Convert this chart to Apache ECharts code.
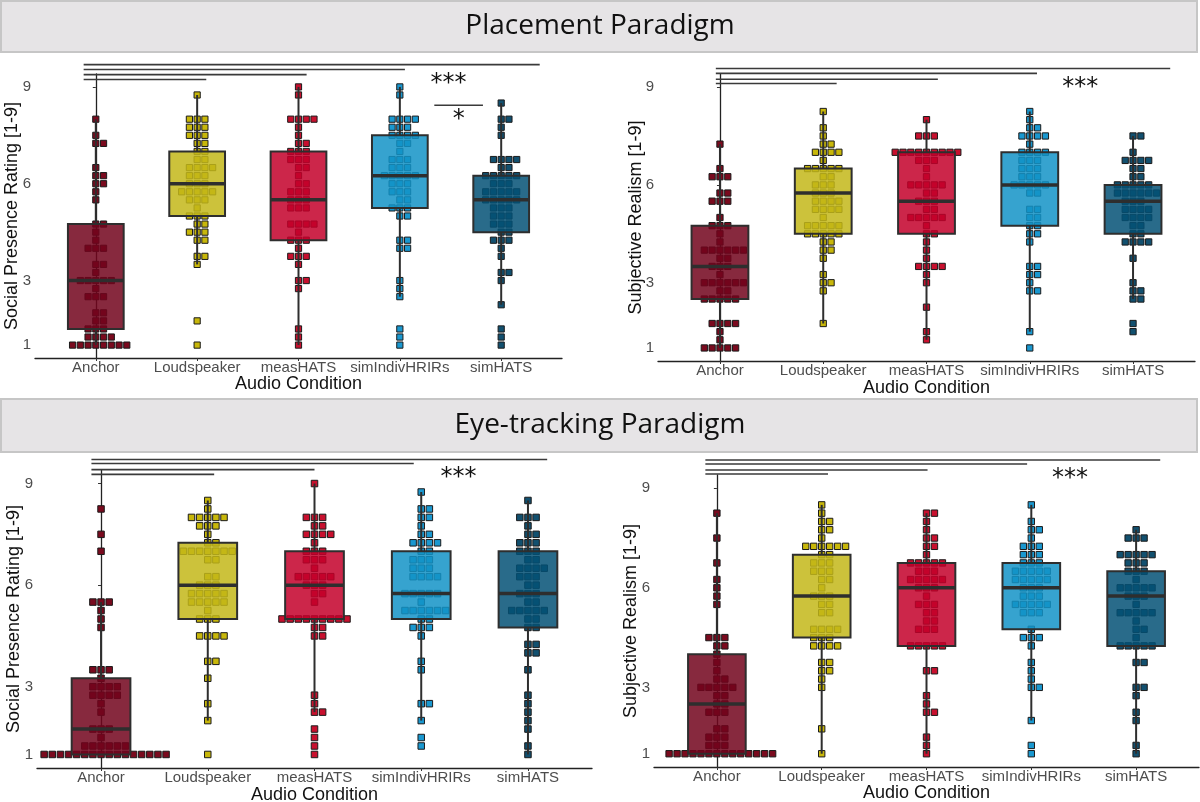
<!DOCTYPE html>
<html>
<head>
<meta charset="utf-8">
<script src="https://cdn.jsdelivr.net/npm/echarts@6/dist/echarts.min.js"></script>
<style>
html, body { margin: 0; padding: 0; background: #fff; }
#main { width: 1200px; height: 802px; }
</style>
</head>
<body>
<div id="main"></div>
<script>
var conditions = ['Anchor', 'Loudspeaker', 'measHATS', 'simIndivHRIRs', 'simHATS'];
var yTicks = [1, 3, 6, 9];
var pointColors = ['#7a0a1e', '#c8b70a', '#c8102e', '#1a98d0', '#12506f'];
var boxColors = ['rgba(114,4,28,0.85)', 'rgba(195,183,25,0.85)', 'rgba(195,0,42,0.85)',
                 'rgba(19,147,199,0.85)', 'rgba(4,81,117,0.85)'];

// dot stacks: [rating, number of participants], one list per condition
var placeSocialDots = [
  [[1,8],[1.25,4],[1.5,3],[1.75,2],[2,2],[2.5,3],[2.75,1],[3,5],[3.25,1],[3.5,2],[4,3],[4.25,1],[4.5,1],[4.75,2],[5.5,1],[5.75,1],[6,2],[6.25,2],[6.5,1],[7.25,2],[7.5,1],[8,1]],
  [[1,1],[1.75,1],[3.5,1],[3.75,2],[4.25,2],[4.5,3],[4.75,2],[5,3],[5.25,1],[5.5,3],[5.75,5],[6,3],[6.25,3],[6.5,4],[6.75,2],[7,2],[7.25,2],[7.5,3],[7.75,3],[8,3],[8.75,1]],
  [[1,1],[1.25,1],[1.5,1],[2.75,1],[3,2],[3.5,1],[3.75,3],[4,1],[4.25,3],[4.5,1],[4.75,4],[5.25,3],[5.5,3],[5.75,3],[6,2],[6.25,1],[6.5,2],[6.75,3],[7,3],[7.25,2],[7.5,1],[7.75,1],[8,4],[8.75,1],[9,1]],
  [[1,1],[1.25,1],[1.5,1],[2.5,1],[2.75,1],[3,1],[4,2],[4.25,2],[5,2],[5.25,3],[5.5,2],[5.75,3],[6,3],[6.25,5],[6.5,3],[6.75,3],[7,1],[7.25,2],[7.5,4],[7.75,3],[8,4],[8.75,1],[9,1]],
  [[1,1],[1.25,1],[1.5,1],[2.25,1],[3,1],[3.25,2],[3.75,1],[4,1],[4.25,3],[4.5,2],[4.75,3],[5,3],[5.25,3],[5.5,5],[5.75,5],[6,3],[6.25,5],[6.5,2],[6.75,4],[7.5,1],[7.75,1],[8,2],[8.5,1]]
];
// box stats: [lower whisker, Q1, median, Q3, upper whisker]
var placeSocialBox = [[1,1.5,3,4.75,8],[3.5,5,6,7,8.75],[1,4.25,5.5,7,9],[2.5,5.25,6.25,7.5,9],[2.25,4.5,5.5,6.25,8.5]];
// significance bars: [from, to, height]
var placeSocialSig = [[-0.12,1.09,9.23],[-0.12,2.08,9.38],[-0.12,3.05,9.54],[-0.12,4.38,9.69],[3.34,3.82,8.43]];
var placeSocialStars = [[3.48,9.29,'***'],[3.58,8.17,'*']];

var placeRealDots = [
  [[1,5],[1.25,1],[1.5,1],[1.75,4],[2.5,5],[2.75,2],[3,6],[3.25,1],[3.5,3],[3.75,2],[4,6],[4.25,1],[4.5,1],[4.75,3],[5,1],[5.5,3],[5.75,2],[6.25,3],[6.5,1],[7.25,1]],
  [[1.75,1],[2.75,1],[3,2],[3.25,1],[3.75,1],[4,2],[4.25,2],[4.5,5],[4.75,5],[5,1],[5.25,4],[5.5,4],[5.75,3],[6,3],[6.25,2],[6.5,5],[6.75,1],[7,4],[7.25,2],[7.5,1],[7.75,1],[8.25,1]],
  [[1.25,1],[1.5,1],[2.25,1],[3,1],[3.25,1],[3.5,4],[3.75,1],[4,1],[4.25,1],[4.5,2],[4.75,1],[5,5],[5.25,2],[5.5,3],[5.75,2],[6,5],[6.25,1],[6.5,1],[6.75,3],[7,9],[7.5,3],[8,1]],
  [[1,1],[1.5,1],[2.75,2],[3,1],[3.25,2],[3.5,2],[4.25,1],[4.5,2],[4.75,2],[5,2],[5.25,2],[5.75,2],[6,5],[6.25,3],[6.5,3],[6.75,3],[7,4],[7.25,1],[7.5,4],[7.75,2],[8,1],[8.25,1]],
  [[1.5,1],[1.75,1],[2.5,2],[2.75,2],[3,1],[3.75,1],[4.25,4],[4.5,2],[4.75,2],[5,4],[5.25,4],[5.5,3],[5.75,6],[6,5],[6.25,2],[6.5,2],[6.75,4],[7,1],[7.5,2]]
];
var placeRealBox = [[1,2.5,3.5,4.75,7.25],[1.75,4.5,5.75,6.5,8.25],[1.25,4.5,5.5,7,8],[1.5,4.75,6,7,8.25],[2.5,4.5,5.5,6,7.5]];
var placeRealSig = [[-0.04,1.13,9.11],[-0.04,2.11,9.24],[-0.04,3.07,9.42],[-0.04,4.36,9.57]];
var placeRealStars = [[3.49,9.17,'***']];

var eyeSocialDots = [
  [[1,16],[1.25,6],[1.5,1],[1.75,3],[2.25,1],[2.5,1],[2.75,4],[3,4],[3.25,1],[3.5,3],[4.75,1],[5,1],[5.25,1],[5.5,3],[7,1],[7.5,1],[8.25,1]],
  [[1,1],[2,1],[2.5,1],[3.25,1],[3.75,2],[4.5,4],[5,3],[5.25,1],[5.5,5],[5.75,5],[6,3],[6.25,2],[6.75,2],[7,7],[7.25,2],[7.5,1],[7.75,3],[8,5],[8.25,1],[8.5,1]],
  [[1,1],[1.25,1],[1.5,1],[1.75,1],[2.25,2],[2.5,1],[2.75,1],[4.5,2],[4.75,2],[5,9],[5.5,1],[5.75,2],[6,3],[6.25,5],[6.5,1],[6.75,3],[7,3],[7.25,1],[7.5,4],[7.75,2],[8,3],[9,1]],
  [[1.25,1],[1.5,1],[2,1],[2.5,2],[3.5,1],[3.75,1],[4.5,1],[4.75,3],[5,2],[5.25,6],[5.5,1],[5.75,5],[6.25,4],[6.5,3],[6.75,3],[7,2],[7.25,4],[7.5,2],[7.75,1],[8,2],[8.25,2],[8.75,1]],
  [[1,1],[1.25,1],[1.75,1],[2,1],[2.25,1],[2.5,1],[2.75,1],[3.5,1],[4,2],[4.25,2],[4.75,2],[5,2],[5.25,5],[5.5,2],[5.75,3],[6,2],[6.25,3],[6.5,4],[6.75,2],[7,3],[7.25,3],[7.5,2],[7.75,1],[8,3],[8.5,1]]
];
var eyeSocialBox = [[1,1,1.75,3.25,5.5],[2,5,6,7.25,8.5],[2.25,5,6,7,9],[2,5,5.75,7,8.75],[1,4.75,5.75,7,8.5]];
var eyeSocialSig = [[-0.09,1.06,9.27],[-0.09,2.0,9.41],[-0.09,2.93,9.59],[-0.09,4.18,9.71]];
var eyeSocialStars = [[3.35,9.34,'***']];

var eyeRealDots = [
  [[1,14],[1.25,3],[1.5,3],[1.75,2],[2.25,3],[2.5,2],[2.75,2],[3,5],[3.25,2],[3.5,1],[3.75,1],[4,1],[4.25,2],[4.5,3],[5.5,1],[5.75,1],[6,1],[6.25,1],[6.75,1],[7.5,1],[8.25,1]],
  [[1,1],[1.75,1],[3,1],[3.25,1],[3.5,2],[3.75,2],[4.25,4],[4.5,3],[4.75,4],[5.25,2],[5.5,2],[5.75,3],[6,1],[6.25,2],[6.5,3],[6.75,3],[7,2],[7.25,6],[7.5,1],[7.75,2],[8,2],[8.25,1],[8.5,1]],
  [[1,1],[1.25,1],[1.5,1],[2.25,2],[2.5,1],[2.75,1],[3.5,2],[4.25,5],[4.75,3],[5,2],[5.25,2],[5.5,3],[5.75,1],[6,3],[6.25,5],[6.5,3],[6.75,5],[7,1],[7.25,2],[7.5,2],[7.75,1],[8,1],[8.25,2]],
  [[1,1],[1.25,1],[2,1],[3,2],[3.25,1],[3.5,1],[3.75,1],[4.25,1],[4.5,3],[4.75,1],[5.25,3],[5.5,5],[5.75,3],[6,3],[6.25,5],[6.5,5],[6.75,3],[7,3],[7.25,3],[7.5,1],[7.75,2],[8,1],[8.5,1]],
  [[1,1],[1.25,1],[2,1],[2.25,1],[2.75,1],[3,2],[3.75,2],[4.25,5],[4.5,1],[4.75,2],[5,1],[5.25,5],[5.5,1],[5.75,3],[6,5],[6.25,1],[6.5,3],[6.75,3],[7,5],[7.5,3],[7.75,1]]
];
var eyeRealBox = [[1,1,2.5,4,8.25],[1,4.5,5.75,7,8.5],[1,4.25,6,6.75,8.25],[2,4.75,6,6.75,8.5],[1,4.25,5.75,6.5,7.75]];
var eyeRealSig = [[-0.11,1.06,9.43],[-0.11,2.01,9.55],[-0.11,2.96,9.73],[-0.11,4.23,9.85]];
var eyeRealStars = [[3.37,9.48,'***']];

var panels = [
  { grid: {left: 35, right: 638, top: 74, bottom: 444}, dots: placeSocialDots, box: placeSocialBox,
    sig: placeSocialSig, stars: placeSocialStars, yTitle: 'Social Presence Rating [1-9]', yTitleX: 12, xTitleY: 384 },
  { grid: {left: 658, right: 5, top: 74, bottom: 441}, dots: placeRealDots, box: placeRealBox,
    sig: placeRealSig, stars: placeRealStars, yTitle: 'Subjective Realism [1-9]', yTitleX: 636, xTitleY: 388 },
  { grid: {left: 37, right: 608, top: 470, bottom: 34}, dots: eyeSocialDots, box: eyeSocialBox,
    sig: eyeSocialSig, stars: eyeSocialStars, yTitle: 'Social Presence Rating [1-9]', yTitleX: 14, xTitleY: 795 },
  { grid: {left: 654, right: 1, top: 475, bottom: 35}, dots: eyeRealDots, box: eyeRealBox,
    sig: eyeRealSig, stars: eyeRealStars, yTitle: 'Subjective Realism [1-9]', yTitleX: 631, xTitleY: 793 }
];

var W = 1200, H = 802;
var yMin = 0.6, yMax = 9.4, xMin = -0.6, xMax = 4.6, boxWidth = 0.55;
var axisFont = 'Liberation Sans, Arial, sans-serif';

// ggplot "centerwhole" stacking: dots centred on the category, aligned on whole steps
function dotPoints(stacks, spacing) {
  var pts = [];
  stacks.forEach(function(rows, c) {
    rows.forEach(function(r) {
      var n = r[1], shift = Math.floor((n - 1) / 2);
      for (var k = 0; k < n; k++) {
        pts.push({
          value: [c, r[0]],
          symbolOffset: [(k - shift) * spacing, 0],
          itemStyle: {color: pointColors[c]}
        });
      }
    });
  });
  return pts;
}

var grids = [], xAxes = [], yAxes = [], series = [], graphics = [];

panels.forEach(function(p, i) {
  grids.push(Object.assign({containLabel: false}, p.grid));
  var gh = H - p.grid.top - p.grid.bottom;
  var unitPx = gh / (yMax - yMin);
  var spacing = 0.24 * unitPx;

  xAxes.push({
    type: 'value', gridIndex: i, min: xMin, max: xMax,
    axisLine: {show: true, lineStyle: {color: '#222', width: 1.3}},
    axisTick: {show: true, length: 3, customValues: [0, 1, 2, 3, 4], lineStyle: {color: '#333'}},
    axisLabel: {
      customValues: [0, 1, 2, 3, 4], margin: 2,
      formatter: function(v) { return conditions[Math.round(v)]; },
      color: '#4d4d4d', fontSize: 15, fontFamily: axisFont
    },
    splitLine: {show: false}
  });
  yAxes.push({
    type: 'value', gridIndex: i, min: yMin, max: yMax,
    axisLine: {show: true, lineStyle: {color: '#222', width: 1.3}},
    axisTick: {show: true, length: 3, customValues: yTicks, lineStyle: {color: '#333'}},
    axisLabel: {customValues: yTicks, margin: 4, color: '#4d4d4d', fontSize: 15, fontFamily: axisFont},
    splitLine: {show: false}
  });

  series.push({
    type: 'scatter', xAxisIndex: i, yAxisIndex: i, z: 2,
    symbol: 'rect', symbolSize: spacing * 0.8,
    itemStyle: {borderColor: '#1a1a1a', borderWidth: 1, opacity: 1},
    emphasis: {disabled: true},
    data: dotPoints(p.dots, spacing)
  });

  series.push({
    type: 'custom', xAxisIndex: i, yAxisIndex: i, z: 3,
    data: p.box.map(function(s, c) { return [c].concat(s); }),
    renderItem: function(params, api) {
      var x = api.value(0), hw = boxWidth / 2;
      var lo = api.coord([x, api.value(1)]), q1 = api.coord([x, api.value(2)]);
      var q3 = api.coord([x, api.value(4)]), hi = api.coord([x, api.value(5)]);
      var tl = api.coord([x - hw, api.value(4)]), br = api.coord([x + hw, api.value(2)]);
      var m1 = api.coord([x - hw, api.value(3)]), m2 = api.coord([x + hw, api.value(3)]);
      var line = {stroke: '#2e2e2e', lineWidth: 2};
      return {
        type: 'group',
        children: [
          {type: 'line', shape: {x1: lo[0], y1: lo[1], x2: q1[0], y2: q1[1]}, style: line},
          {type: 'line', shape: {x1: q3[0], y1: q3[1], x2: hi[0], y2: hi[1]}, style: line},
          {type: 'rect', shape: {x: tl[0], y: tl[1], width: br[0] - tl[0], height: br[1] - tl[1]},
           style: {fill: boxColors[params.dataIndex], stroke: '#2e2e2e', lineWidth: 2}},
          {type: 'line', shape: {x1: m1[0], y1: m1[1], x2: m2[0], y2: m2[1]},
           style: {stroke: '#2e2e2e', lineWidth: 3.5}}
        ]
      };
    }
  });

  series.push({
    type: 'custom', xAxisIndex: i, yAxisIndex: i, z: 4, clip: false,
    data: p.sig,
    renderItem: function(params, api) {
      var a = api.coord([api.value(0), api.value(2)]), b = api.coord([api.value(1), api.value(2)]);
      return {type: 'line', shape: {x1: a[0], y1: a[1], x2: b[0], y2: b[1]},
              style: {stroke: '#3a3a3a', lineWidth: 1.6}};
    }
  });

  var stars = p.stars;
  series.push({
    type: 'custom', xAxisIndex: i, yAxisIndex: i, z: 4, clip: false,
    data: stars.map(function(s) { return [s[0], s[1]]; }),
    renderItem: function(params, api) {
      var c = api.coord([api.value(0), api.value(1)]);
      return {type: 'text', x: c[0], y: c[1] + 6,
              style: {text: stars[params.dataIndex][2], fill: '#111', fontSize: 24,
                      fontFamily: 'DejaVu Sans, sans-serif', align: 'center', verticalAlign: 'middle'}};
    }
  });

  var midY = p.grid.top + gh / 2;
  var midX = p.grid.left + (W - p.grid.left - p.grid.right) / 2;
  graphics.push({
    type: 'text', x: p.yTitleX, y: midY, rotation: Math.PI / 2,
    style: {text: p.yTitle, fill: '#111', fontSize: 18, fontFamily: axisFont, align: 'center', verticalAlign: 'middle'}
  });
  graphics.push({
    type: 'text', x: midX, y: p.xTitleY,
    style: {text: 'Audio Condition', fill: '#111', fontSize: 18, fontFamily: axisFont, align: 'center', verticalAlign: 'middle'}
  });
});

[['Placement Paradigm', 1, 52], ['Eye-tracking Paradigm', 399, 452]].forEach(function(h) {
  graphics.push({
    type: 'rect', shape: {x: 1, y: h[1], width: 1196, height: h[2] - h[1]},
    style: {fill: '#e6e4e6', stroke: '#c6c6c6', lineWidth: 2}, z: -1
  });
  graphics.push({
    type: 'text', x: 600, y: (h[1] + h[2]) / 2,
    style: {text: h[0], fill: '#111', fontSize: 28, fontFamily: 'Open Sans, sans-serif', align: 'center', verticalAlign: 'middle'}
  });
});

var chart = echarts.init(document.getElementById('main'));
chart.setOption({
  backgroundColor: '#fff',
  animation: false,
  grid: grids,
  xAxis: xAxes,
  yAxis: yAxes,
  series: series,
  graphic: graphics
});
</script>
</body>
</html>
